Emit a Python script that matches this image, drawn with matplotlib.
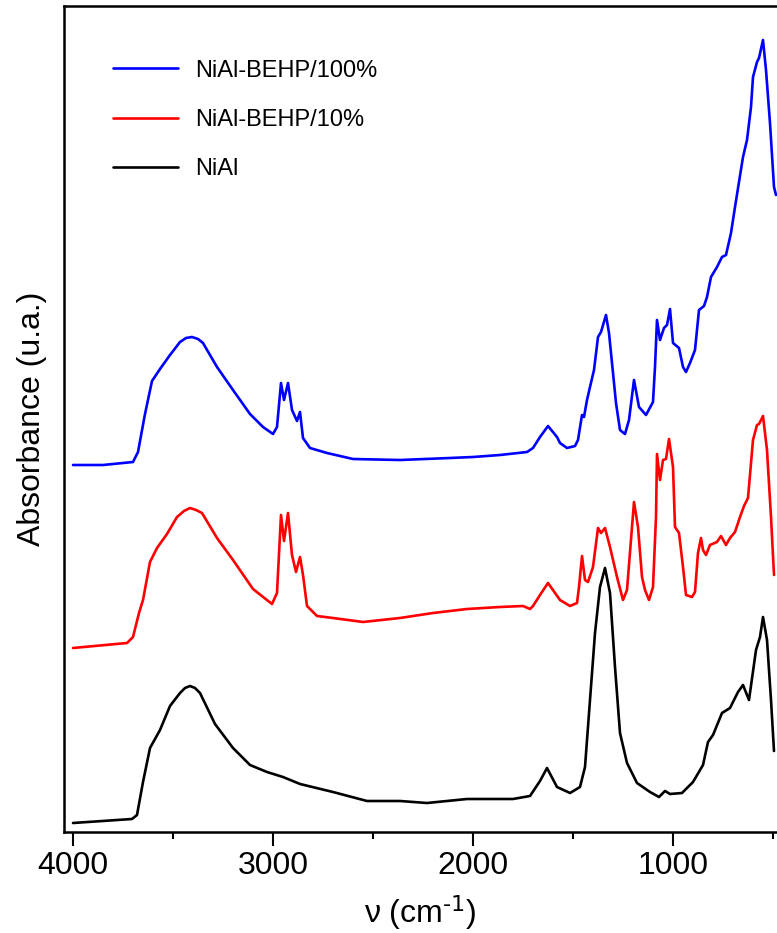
import matplotlib
matplotlib.use("Agg")
import matplotlib.pyplot as plt
from matplotlib.ticker import MultipleLocator

plt.rcParams['font.family'] = ['Liberation Sans', 'DejaVu Sans']
plt.rcParams['mathtext.default'] = 'regular'

# FTIR spectra (wavenumber in cm-1, absorbance in a.u., curves stacked)
wn_nial = [4000, 3705, 3680, 3650, 3615, 3565, 3515, 3465, 3440, 3415, 3390, 3365, 3290, 3200,
           3115, 3030, 2950, 2865, 2700, 2530, 2365, 2230, 2030, 1800, 1715, 1665,
           1630, 1580, 1515, 1465, 1440, 1415, 1390, 1365, 1340, 1315, 1290, 1265,
           1230, 1180, 1115, 1070, 1040, 1015, 955, 900, 850, 825, 800, 755, 715,
           675, 650, 620, 585, 565, 550, 530, 510, 495]
abs_nial = [0.09, 0.13, 0.17, 0.50, 0.84, 1.02, 1.26, 1.39, 1.44, 1.46, 1.44, 1.39, 1.08, 0.84,
            0.67, 0.60, 0.55, 0.48, 0.40, 0.31, 0.31, 0.29, 0.33, 0.33, 0.36, 0.51,
            0.64, 0.45, 0.39, 0.45, 0.65, 1.32, 1.99, 2.45, 2.64, 2.39, 1.65, 0.99,
            0.69, 0.49, 0.40, 0.35, 0.41, 0.38, 0.39, 0.50, 0.67, 0.90, 0.97, 1.19, 1.24,
            1.40, 1.47, 1.32, 1.82, 1.95, 2.15, 1.92, 1.32, 0.81]

wn_10 = [4000, 3730, 3700, 3670, 3650, 3615, 3580, 3530, 3480, 3445, 3415, 3385, 3355, 3280,
         3200, 3100, 3005, 2980, 2960, 2945, 2925, 2905, 2885, 2865, 2850, 2830,
         2780, 2700, 2550, 2365, 2200, 2030, 1865, 1750, 1715, 1700, 1665, 1625,
         1565, 1515, 1480, 1470, 1455, 1440, 1425, 1400, 1375, 1360, 1340, 1315,
         1280, 1250, 1230, 1205, 1195, 1175, 1155, 1140, 1120, 1100, 1085, 1080,
         1065, 1050, 1035, 1020, 1000, 990, 970, 950, 935, 905, 890, 875, 860, 850,
         835, 815, 780, 760, 735, 715, 690, 665, 645, 625, 600, 580, 570, 550, 530,
         510, 495]
abs_10 = [1.84, 1.89, 1.95, 2.19, 2.32, 2.70, 2.84, 2.98, 3.15, 3.21, 3.24, 3.22, 3.19, 2.94,
          2.72, 2.43, 2.28, 2.39, 3.17, 2.91, 3.19, 2.77, 2.60, 2.75, 2.57, 2.26,
          2.16, 2.14, 2.10, 2.14, 2.19, 2.23, 2.25, 2.26, 2.23, 2.26, 2.37, 2.49,
          2.32, 2.26, 2.29, 2.45, 2.76, 2.52, 2.50, 2.65, 3.04, 2.99, 3.04, 2.85,
          2.55, 2.32, 2.42, 3.05, 3.30, 3.05, 2.55, 2.42, 2.32, 2.45, 3.15, 3.78,
          3.52, 3.72, 3.73, 3.93, 3.65, 3.05, 2.99, 2.65, 2.37, 2.35, 2.40, 2.79, 2.94, 2.82,
          2.77, 2.87, 2.90, 2.96, 2.87, 2.94, 3.00, 3.15, 3.26, 3.34, 3.92, 4.07, 4.08, 4.16, 3.82,
          3.15, 2.57]

wn_100 = [4000, 3850, 3700, 3675, 3640, 3605, 3565, 3515, 3465, 3435, 3405, 3375, 3350, 3280,
          3200, 3115, 3050, 3000, 2980, 2960, 2945, 2925, 2905, 2880, 2865, 2850,
          2815, 2730, 2600, 2365, 2115, 2000, 1865, 1730, 1700, 1665, 1625, 1580,
          1565, 1530, 1490, 1475, 1455, 1445, 1430, 1415, 1395, 1375, 1360, 1335,
          1320, 1300, 1285, 1265, 1240, 1220, 1195, 1170, 1135, 1100, 1090, 1080,
          1065, 1045, 1030, 1015, 1000, 970, 950, 935, 915, 890, 870, 845, 830, 810,
          780, 755, 735, 710, 690, 670, 650, 630, 610, 600, 580, 570, 550, 535, 515,
          495, 485]
abs_100 = [3.67, 3.67, 3.70, 3.80, 4.18, 4.51, 4.63, 4.77, 4.90, 4.94, 4.95, 4.93, 4.89, 4.65,
           4.42, 4.18, 4.05, 3.98, 4.05, 4.49, 4.32, 4.49, 4.22, 4.11, 4.20, 3.94,
           3.84, 3.79, 3.73, 3.72, 3.74, 3.75, 3.77, 3.80, 3.84, 3.95, 4.06, 3.95,
           3.89, 3.84, 3.86, 3.92, 4.17, 4.15, 4.32, 4.45, 4.62, 4.95, 5.00, 5.17,
           4.99, 4.59, 4.29, 4.02, 3.98, 4.12, 4.52, 4.25, 4.17, 4.30, 4.65, 5.12,
           4.92, 5.04, 5.07, 5.23, 4.89, 4.84, 4.65, 4.60, 4.69, 4.82, 5.22, 5.26, 5.35, 5.55,
           5.65, 5.75, 5.77, 5.99, 6.25, 6.50, 6.75, 6.92, 7.25, 7.55, 7.70, 7.74, 7.92, 7.62, 7.09,
           6.45, 6.37]

labels = ['NiAl-BEHP/100%', 'NiAl-BEHP/10%', 'NiAl']

fig = plt.figure(figsize=(7.77, 9.33), dpi=100)
ax = fig.add_axes([64 / 777, 1 - 832 / 933, 1 - 64 / 777, (832 - 6) / 933])

line_kw = dict(lw=1.9, solid_joinstyle='round', solid_capstyle='round')
ax.plot(wn_100, abs_100, color='blue', label=labels[0], **line_kw)
ax.plot(wn_10, abs_10, color='red', label=labels[1], **line_kw)
ax.plot(wn_nial, abs_nial, color='black', label=labels[2], **line_kw)

ax.set_xlim(4045, 480)
ax.set_ylim(0, 8.26)
ax.xaxis.set_major_locator(MultipleLocator(1000))
ax.xaxis.set_minor_locator(MultipleLocator(500))
ax.tick_params(axis='x', which='major', direction='out', length=10, width=1.5,
               labelsize=23, pad=4)
ax.tick_params(axis='x', which='minor', direction='out', length=5, width=1.5)
ax.set_yticks([])
for side in ['left', 'bottom', 'top']:
    ax.spines[side].set_linewidth(1.8)
ax.spines['right'].set_visible(False)

ax.set_xlabel(r'ν (cm$^{\text{-1}}$)', fontsize=23, labelpad=8)
ax.set_ylabel('Absorbance (u.a.)', fontsize=23, labelpad=12)

ax.legend(loc='upper left', bbox_to_anchor=(0.0687, 0.935), frameon=False,
          fontsize=17, handlelength=2.75, handletextpad=0.72, labelspacing=1.15,
          borderpad=0, borderaxespad=0)

fig.savefig('out.png', dpi=100)
